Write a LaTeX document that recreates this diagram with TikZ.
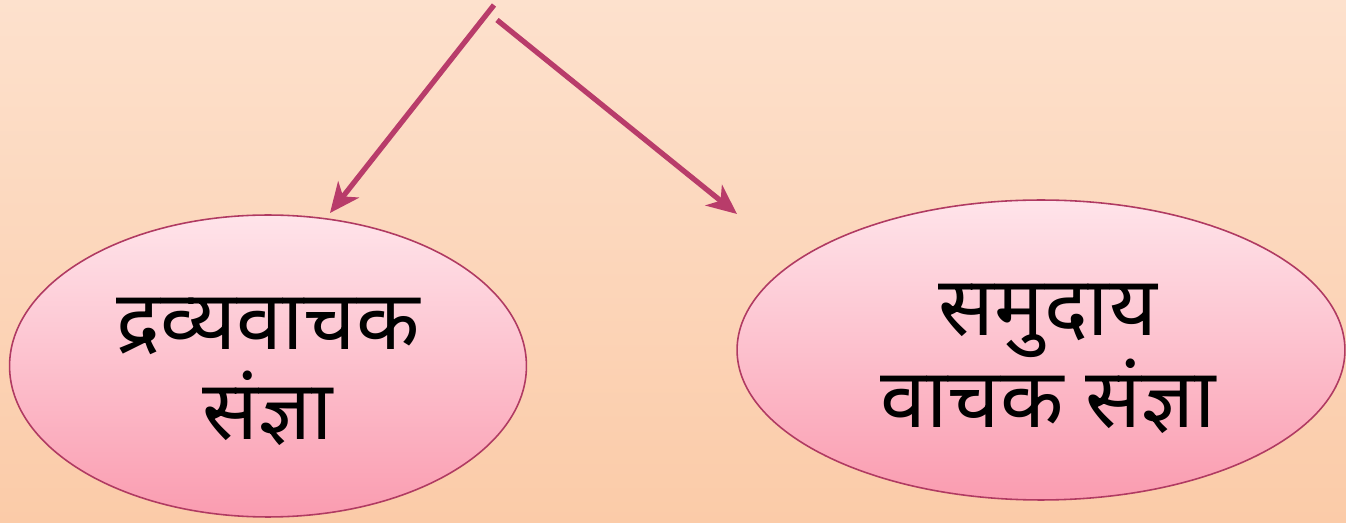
\documentclass[tikz,border=0pt]{standalone}
\usepackage{fontspec}
\newfontfamily\devfont[Script=Devanagari]{Noto Sans}
\usetikzlibrary{shapes.geometric, arrows.meta}

\definecolor{bgtop}{RGB}{253,225,205}
\definecolor{bgbottom}{RGB}{251,203,168}
\definecolor{elltop}{RGB}{255,228,234}
\definecolor{ellbottom}{RGB}{250,156,176}
\definecolor{ellborder}{RGB}{176,58,98}
\definecolor{arrowcol}{RGB}{184,60,106}

\begin{document}
\begin{tikzpicture}[x=0.02cm, y=-0.02cm,
  kind/.style={ellipse, draw=ellborder, line width=0.9pt, top color=elltop, bottom color=ellbottom, inner sep=0pt},
  kindtext/.style={inner sep=0pt, align=center, font=\devfont\fontsize{47}{51}\selectfont},
  branch/.style={draw=arrowcol, line width=3pt, -{Stealth[length=17pt, width=15pt, inset=5pt]}}]
  \shade[top color=bgtop, bottom color=bgbottom] (0,0) rectangle (1346,523);
  \node[kind, minimum width=10.34cm, minimum height=6.04cm] (dravya) at (268,366) {};
  \node[kind, minimum width=12.16cm, minimum height=6cm] (samuday) at (1041,350) {};
  \node[kindtext] (dravyatext) at (268,372) {द्रव्यवाचक\\संज्ञा};
  \node[kindtext] (samudaytext) at (1048,359) {समुदाय\\वाचक संज्ञा};
  \coordinate (top1) at (494,5);
  \coordinate (top2) at (497,20);
  \coordinate (end1) at (330,213);
  \coordinate (end2) at (737,214);
  \draw[branch] (top1) -- (end1);
  \draw[branch] (top2) -- (end2);
\end{tikzpicture}
\end{document}
